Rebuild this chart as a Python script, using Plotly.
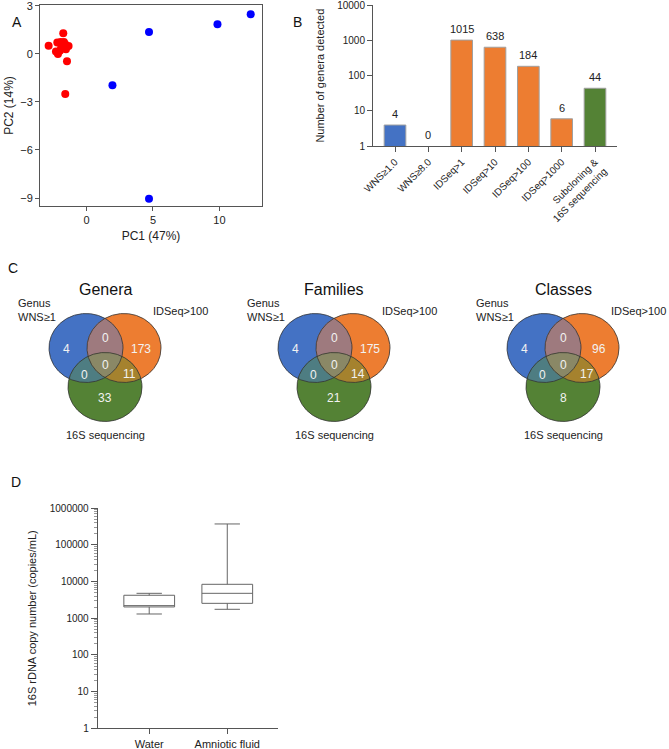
import numpy as np
import plotly.graph_objects as go

FONT = "Liberation Sans, Arial, sans-serif"
W, H = 669, 749

# ---------------- Data ----------------
# Panel A: PCA
pc1_red = [-2.85, -2.2, -1.95, -1.7, -1.75, -1.35, -1.55, -2.3, -2.15, -1.9, -1.6, -2.0, -1.47, -1.6]
pc2_red = [0.51, 0.72, 0.75, 0.75, 1.29, 0.5, 0.3, 0.15, 0.0, 0.4, 0.6, 0.2, -0.45, -2.5]
pc1_blue = [1.95, 4.7, 4.7, 9.85, 12.35]
pc2_blue = [-1.95, 1.37, -9.05, 1.85, 2.48]

# Panel B: genera detected
b_categories = ["WNS≥1.0", "WNS≥8.0", "IDSeq>1", "IDSeq>10", "IDSeq>100", "IDSeq>1000",
                "Subcloning &<br>16S sequencing"]
b_values = [4, 0, 1015, 638, 184, 6, 44]
b_colors = ["#4472C4", "#4472C4", "#ED7D31", "#ED7D31", "#ED7D31", "#ED7D31", "#548235"]

# Panel C: Venn diagrams (regions: A only, A&B, B only, A&B&C, A&C, B&C, C only)
venn_titles = ["Genera", "Families", "Classes"]
venn_genera = [4, 0, 173, 0, 0, 11, 33]
venn_families = [4, 0, 175, 0, 0, 14, 21]
venn_classes = [4, 0, 96, 0, 0, 17, 8]
venn_sets = ["Genus<br>WNS≥1", "IDSeq>100", "16S sequencing"]

# Panel D: 16S rDNA copy number box plot
d_categories = ["Water", "Amniotic fluid"]
d_lower = [1310, 1760]
d_q1 = [2040, 2560]
d_median = [2215, 4800]
d_q3 = [4250, 8460]
d_upper = [4800, 374000]

# ---------------- Helpers ----------------
def px_x(px):
    return min(max(px / W, 0), 1)

def px_y(py):
    return min(max(1 - py / H, 0), 1)

fig = go.Figure()

axis_col = "#555555"
tickfont = dict(family=FONT, size=11, color="#222")

# ---------------- Panel A ----------------
fig.add_trace(go.Scatter(x=pc1_red, y=pc2_red, mode="markers",
                         marker=dict(color="#FF0000", size=8), xaxis="x", yaxis="y",
                         showlegend=False, hoverinfo="skip"))
fig.add_trace(go.Scatter(x=pc1_blue, y=pc2_blue, mode="markers",
                         marker=dict(color="#0000FF", size=8), xaxis="x", yaxis="y",
                         showlegend=False, hoverinfo="skip"))

# ---------------- Panel B ----------------
bx = list(range(len(b_categories)))
fig.add_trace(go.Bar(x=bx, y=[v if v > 0 else None for v in b_values], marker=dict(
    color=b_colors, line=dict(color="#A0A0A0", width=1)), width=0.65,
    xaxis="x2", yaxis="y2", showlegend=False, hoverinfo="skip"))

annotations = []
for i, v in enumerate(b_values):
    annotations.append(dict(x=i, y=np.log10(max(v, 1)), xref="x2", yref="y2", text=str(v),
                            showarrow=False, yanchor="bottom", yshift=3,
                            font=dict(family=FONT, size=11, color="#222")))

# ---------------- Panel C: Venn ----------------
# ellipse layout (local pixel units)
centers = [(86, 68), (124, 68), (105, 107)]
rx, ry = 37, 34.5
label_pos = [(66, 69), (105, 58), (141, 69), (105, 85), (84, 95), (129, 94), (105, 118)]
fill_single = ["#4472C4", "#ED7D31", "#548235"]
pair_cols = {(0, 1): "#9E7A7E", (0, 2): "#4E7D82", (1, 2): "#A5822E"}
triple_col = "#8A8866"

theta = np.linspace(0, 2 * np.pi, 361)


def ellipse_pts(c):
    return c[0] + rx * np.cos(theta), c[1] + ry * np.sin(theta)


def intersection_pts(idx):
    p = np.mean([centers[i] for i in idx], axis=0)
    dx, dy = np.cos(theta), np.sin(theta)
    ts = []
    for i in idx:
        cx, cy = centers[i]
        a = (dx / rx) ** 2 + (dy / ry) ** 2
        b = 2 * ((p[0] - cx) * dx / rx ** 2 + (p[1] - cy) * dy / ry ** 2)
        c = ((p[0] - cx) / rx) ** 2 + ((p[1] - cy) / ry) ** 2 - 1
        ts.append((-b + np.sqrt(b * b - 4 * a * c)) / (2 * a))
    t = np.min(ts, axis=0)
    return p[0] + t * dx, p[1] + t * dy


venn_data = [venn_genera, venn_families, venn_classes]
venn_offsets = [0, 229, 458]
venn_w = 229
venn_top, venn_bot = 280, 450

for k in range(3):
    xa = "x%d" % (k + 3)
    ya = "y%d" % (k + 3)
    for i in range(3):
        ex, ey = ellipse_pts(centers[i])
        fig.add_trace(go.Scatter(x=ex, y=ey, fill="toself", fillcolor=fill_single[i],
                                 mode="none", xaxis=xa, yaxis=ya, showlegend=False,
                                 hoverinfo="skip"))
    for (i, j), col in pair_cols.items():
        ex, ey = intersection_pts([i, j])
        fig.add_trace(go.Scatter(x=ex, y=ey, fill="toself", fillcolor=col, mode="none",
                                 xaxis=xa, yaxis=ya, showlegend=False, hoverinfo="skip"))
    ex, ey = intersection_pts([0, 1, 2])
    fig.add_trace(go.Scatter(x=ex, y=ey, fill="toself", fillcolor=triple_col, mode="none",
                             xaxis=xa, yaxis=ya, showlegend=False, hoverinfo="skip"))
    for i in range(3):
        ex, ey = ellipse_pts(centers[i])
        fig.add_trace(go.Scatter(x=ex, y=ey, mode="lines",
                                 line=dict(color="#333333", width=0.8),
                                 xaxis=xa, yaxis=ya, showlegend=False, hoverinfo="skip"))
    for (lx, ly), v in zip(label_pos, venn_data[k]):
        annotations.append(dict(x=lx, y=ly, xref=xa, yref=ya, text=str(v), showarrow=False,
                                font=dict(family=FONT, size=12, color="#F2F2F2")))
    annotations.append(dict(x=105, y=9, xref=xa, yref=ya, text=venn_titles[k], showarrow=False,
                            font=dict(family=FONT, size=16, color="#111")))
    annotations.append(dict(x=16, y=30, xref=xa, yref=ya, text=venn_sets[0], showarrow=False,
                            xanchor="left", align="left",
                            font=dict(family=FONT, size=11, color="#222")))
    annotations.append(dict(x=180, y=31, xref=xa, yref=ya, text=venn_sets[1], showarrow=False,
                            font=dict(family=FONT, size=11, color="#222")))
    annotations.append(dict(x=105, y=155, xref=xa, yref=ya, text=venn_sets[2], showarrow=False,
                            font=dict(family=FONT, size=11, color="#222")))

# ---------------- Panel D ----------------
fig.add_trace(go.Box(x=d_categories, q1=d_q1, median=d_median, q3=d_q3,
                     lowerfence=d_lower, upperfence=d_upper, width=0.65, whiskerwidth=0.5,
                     fillcolor="white", line=dict(color="#666666", width=1),
                     xaxis="x6", yaxis="y6", showlegend=False, hoverinfo="skip",
                     boxpoints=False))

d_major = [10 ** e for e in range(7)]
d_minor = [m * 10 ** e for e in range(6) for m in range(2, 10)]

# Panel letters
for txt, x, y in [("A", 10, 12), ("B", 297, 12), ("C", 6, 268), ("D", 9, 482)]:
    annotations.append(dict(x=px_x(x), y=px_y(y), xref="paper", yref="paper", text=txt,
                            showarrow=False, font=dict(family=FONT, size=14, color="#111")))

lay = dict(
    template="none",
    width=W, height=H, margin=dict(l=0, r=0, t=0, b=0, autoexpand=False),
    paper_bgcolor="white", plot_bgcolor="white",
    font=dict(family=FONT, color="#222"),
    annotations=annotations,
    xaxis=dict(domain=[px_x(40), px_x(262)], range=[-3.5, 13.2], tickvals=[0, 5, 10],
               showline=True, linecolor=axis_col, mirror=True, ticks="outside", ticklen=4,
               tickcolor=axis_col, showgrid=False, zeroline=False, tickfont=tickfont,
               title=dict(text="PC1 (47%)", font=dict(family=FONT, size=12), standoff=6),
               anchor="y", automargin=False, ticklabeloverflow="allow"),
    yaxis=dict(domain=[px_y(206), px_y(5)], range=[-9.5, 3.06], tickvals=[3, 0, -3, -6, -9],
               showline=True, linecolor=axis_col, mirror=True, ticks="outside", ticklen=4,
               tickcolor=axis_col, showgrid=False, zeroline=False, tickfont=tickfont,
               title=dict(text="PC2 (14%)", font=dict(family=FONT, size=12), standoff=4),
               anchor="x", automargin=False, ticklabeloverflow="allow"),
    xaxis2=dict(domain=[px_x(373), px_x(617)], range=[-0.66, 6.66], tickvals=bx,
                ticktext=b_categories, tickangle=-45, showline=True, linecolor=axis_col,
                ticks="outside", ticklen=5, tickcolor=axis_col, showgrid=False,
                zeroline=False, tickfont=dict(family=FONT, size=10, color="#222"),
                anchor="y2", automargin=False, ticklabeloverflow="allow"),
    yaxis2=dict(domain=[px_y(146.3), px_y(5)], type="log", range=[0, 4],
                tickvals=[1, 10, 100, 1000, 10000], ticktext=["1", "10", "100", "1000", "10000"],
                showline=True, linecolor=axis_col, ticks="outside", ticklen=5,
                tickcolor=axis_col, showgrid=False, zeroline=False,
                tickfont=dict(family=FONT, size=10, color="#222"),
                title=dict(text="Number of genera detected", font=dict(family=FONT, size=11),
                           standoff=10),
                anchor="x2", automargin=False, ticklabeloverflow="allow"),
    xaxis6=dict(domain=[px_x(97.7), px_x(278)], range=[-0.66, 1.65], type="category",
                showline=True, linecolor=axis_col, ticks="outside", ticklen=5,
                tickcolor=axis_col, showgrid=False, zeroline=False,
                tickfont=dict(family=FONT, size=11, color="#222"), anchor="y6",
                automargin=False, ticklabeloverflow="allow"),
    yaxis6=dict(domain=[px_y(728.3), px_y(508.3)], type="log", range=[0, 6],
                tickvals=d_major, ticktext=[str(v) for v in d_major],
                showline=True, linecolor=axis_col, ticks="outside", ticklen=6,
                tickcolor=axis_col, showgrid=False, zeroline=False,
                minor=dict(ticks="outside", ticklen=3, tickcolor="#999", showgrid=False,
                           tickmode="array", tickvals=d_minor),
                tickfont=dict(family=FONT, size=10, color="#222"),
                title=dict(text="16S rDNA copy number (copies/mL)", font=dict(family=FONT, size=11),
                           standoff=10),
                anchor="x6", automargin=False, ticklabeloverflow="allow"),
)
for k in range(3):
    x0 = venn_offsets[k]
    w = min(venn_w, W - x0)
    lay["xaxis%d" % (k + 3)] = dict(domain=[px_x(x0), px_x(x0 + w)], range=[0, w],
                                    visible=False, anchor="y%d" % (k + 3), fixedrange=True,
                                    automargin=False)
    lay["yaxis%d" % (k + 3)] = dict(domain=[px_y(venn_bot), px_y(venn_top)],
                                    range=[venn_bot - venn_top, 0], visible=False,
                                    anchor="x%d" % (k + 3), fixedrange=True,
                                    automargin=False)

fig.update_layout(**lay)
fig.write_html("out.html", config={"displayModeBar": False},
               post_script="document.body.style.margin='0';document.body.style.overflow='hidden';")
